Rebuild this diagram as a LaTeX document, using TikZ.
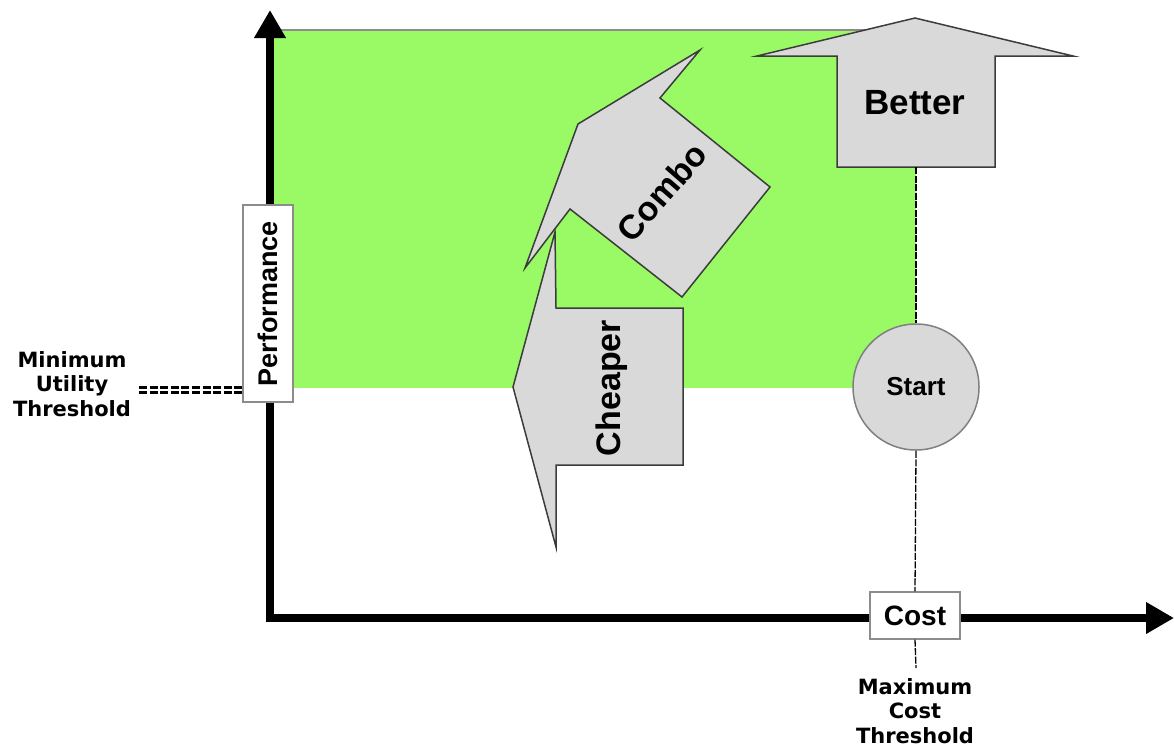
\documentclass[tikz,border=0pt]{standalone}
\usepackage{fontspec}
\setmainfont{Liberation Sans}
\newfontfamily\threshfont{DejaVu Sans}
\usetikzlibrary{arrows.meta}
\definecolor{utilgreen}{RGB}{153,250,102}
\definecolor{shapegray}{RGB}{217,217,217}
\definecolor{edgegray}{RGB}{60,60,60}
\definecolor{boxgray}{RGB}{140,140,140}

\begin{document}
\begin{tikzpicture}[x=1pt, y=-1pt,
    axis/.style={line width=8pt, -{Triangle[length=28pt,width=30pt]}},
    moveshape/.style={fill=shapegray, draw=edgegray, line width=1.5pt},
    movetext/.style={font=\fontsize{34}{40}\selectfont\bfseries},
    axisbox/.style={draw=boxgray, fill=white, line width=1.2pt, inner sep=0pt},
    thresh/.style={align=center, font=\threshfont\bfseries\fontsize{21}{24.5}\selectfont},
    limitline/.style={line width=1.3pt, dash pattern=on 7pt off 1.5pt}]

    \useasboundingbox (0,0) rectangle (1174,748);

    % acceptable region
    \fill[utilgreen] (270,30) rectangle (916,388);
    \draw[boxgray, line width=1.2pt] (270,30) -- (916,30);

    \draw[axis] (270,622) -- (270,10);
    \draw[axis] (266,618) -- (1174,618);

    % Cheaper
    \draw[moveshape] (555,232) -- (513,387) -- (556,547) -- (556,465) -- (683,465) -- (683,308) -- (556,308) -- cycle;
    \node[movetext, rotate=90] (cheaper) at (612,388) {Cheaper};

    % Combo
    \draw[moveshape] (700,50) -- (660,98) -- (770,187) -- (682,297) -- (570,209) -- (525,268) -- (578,124) -- cycle;
    \node[movetext, rotate=49] (combo) at (662,192) {Combo};

    % Better
    \draw[moveshape] (915,18) -- (1073,56) -- (995,56) -- (995,167) -- (837,167) -- (837,56) -- (757,56) -- cycle;
    \node[movetext, font=\fontsize{35}{42}\selectfont\bfseries] (better) at (915,103) {Better};
    \coordinate (betterfoot) at (916,167);

    \node[circle, minimum size=126pt, inner sep=0pt, fill=shapegray, draw=gray, line width=1.5pt,
          font=\fontsize{26}{31}\selectfont\bfseries] (start) at (916,387) {Start};

    \node[axisbox, rotate=90, minimum width=197pt, minimum height=50pt,
          font=\fontsize{27}{32}\selectfont\bfseries] (perf) at (268,303.5) {Performance};
    \node[axisbox, minimum width=90pt, minimum height=47pt,
          font=\fontsize{28}{33}\selectfont\bfseries] (cost) at (915,615.5) {Cost};

    \node[thresh] (minutil) at (72,384) {Minimum\\Utility\\Threshold};
    \node[thresh] (maxcost) at (915,711) {Maximum\\Cost\\Threshold};

    % threshold markers
    \coordinate (utilend) at (139,390);
    \coordinate (costfoot) at (916,668);
    \draw[line width=2.4pt, double distance=2.6pt, dash pattern=on 8pt off 2.6pt] (utilend) -- (perf.north |- utilend);
    \draw[limitline] (betterfoot) -- (start.north);
    \draw[limitline] (start.south) -- (cost.north);
    \draw[limitline] (cost.south) -- (costfoot);

\end{tikzpicture}
\end{document}
